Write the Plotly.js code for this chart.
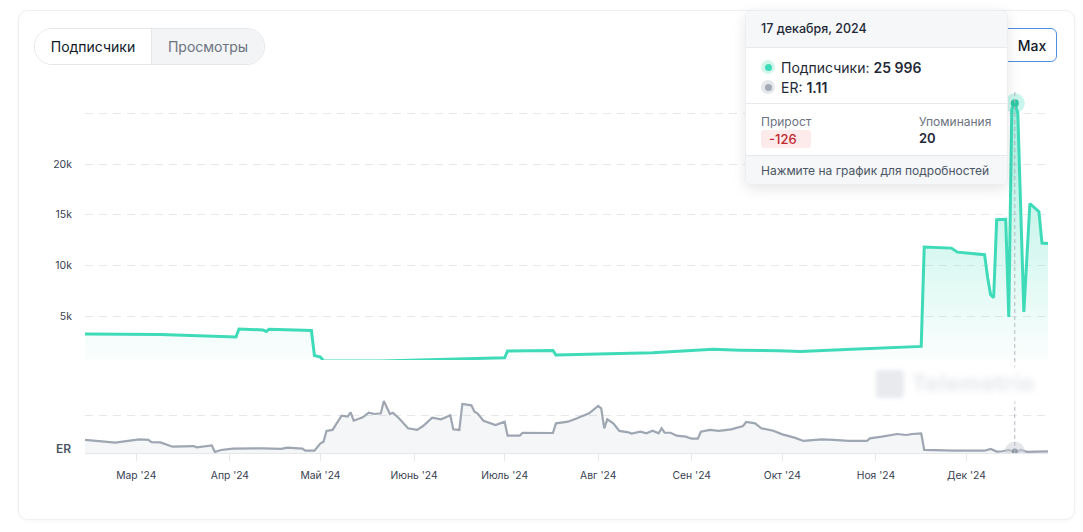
<!DOCTYPE html>
<html>
<head>
<meta charset="utf-8">
<script src="https://cdn.plot.ly/plotly-3.0.1.min.js"></script>
<style>
  html, body { margin:0; padding:0; background:#ffffff; font-family: Inter, "Noto Sans", sans-serif; }
  #wrap { position:relative; width:1083px; height:532px; overflow:hidden; }
  #card { position:absolute; left:18px; top:10px; width:1055px; height:508px; border:1px solid #eef0f3; border-radius:10px; background:#fff; box-shadow:0 1px 4px rgba(0,0,0,0.04); }
  #chart { position:absolute; left:0; top:0; width:1083px; height:532px; }
  .toggle { position:absolute; left:34px; top:28px; width:229px; height:35px; border:1px solid #e5e7eb; border-radius:18px; overflow:hidden; display:flex; font-size:14px; }
  .toggle div { display:flex; align-items:center; justify-content:center; }
  .t1 { width:116px; background:#fff; color:#111827; border-right:1px solid #e5e7eb; }
  .t2 { flex:1; background:#f3f4f6; color:#6b7280; }
  .maxbtn { position:absolute; left:1000px; top:28px; width:57px; height:34px; border:1px solid #4f8fe0; border-radius:6px; background:#fff; font-size:14px; font-weight:500; color:#111827; display:flex; align-items:center; justify-content:center; padding-left:7px; box-sizing:border-box; }
  .tip { position:absolute; left:745px; top:10px; width:261px; height:173px; background:#fff; border-radius:7px; box-shadow:0 4px 14px rgba(0,0,0,0.10); border:1px solid #eceef1; overflow:hidden; color:#1f2937; }
  .tip .hd { height:36px; background:#f6f7f9; border-bottom:1px solid #e7e9ec; font-size:12.5px; font-weight:500; padding-left:15px; line-height:36px; }
  .tip .bd { height:56px; border-bottom:1px solid #e7e9ec; padding-left:15px; padding-top:9px; box-sizing:border-box; font-size:14px; }
  .tip .row { display:flex; align-items:center; height:20px; }
  .dot { width:14px; height:14px; border-radius:50%; display:flex; align-items:center; justify-content:center; margin-right:6px; }
  .dot i { width:7px; height:7px; border-radius:50%; display:block; }
  .tip .st { height:51px; border-bottom:1px solid #e7e9ec; position:relative; font-size:12px; }
  .lbl { position:absolute; color:#6b7280; top:10px; }
  .val { position:absolute; top:26px; font-weight:600; font-size:13px; }
  .neg { background:#fdebec; color:#c0262d; font-weight:500; padding:1px 8px; border-radius:3px; width:34px; }
  .tip .ft { height:29px; background:#f6f7f9; font-size:12px; color:#4b5563; padding-left:15px; line-height:29px; }
  .wm { position:absolute; left:872px; top:366px; width:170px; height:36px; background:#fff; filter:blur(2px); }
  .wm .ic { position:absolute; left:4px; top:4px; width:28px; height:28px; background:#e8eaee; border-radius:4px; }
  .wm .tx { position:absolute; left:40px; top:4px; font-size:22px; color:#e1e4e8; font-weight:600; letter-spacing:1px; filter:blur(2.5px); }
</style>
</head>
<body>
<div id="wrap">
  <div id="card"></div>
  <div id="chart"></div>
  <div class="wm"><div class="ic"></div><div class="tx">Telemetrio</div></div>
  <div class="toggle"><div class="t1">Подписчики</div><div class="t2">Просмотры</div></div>
  <div class="maxbtn">Max</div>
  <div class="tip" id="tip"></div>
</div>
<script>
// ---------- DATA ----------
const subsDates = ['2024-02-13','2024-03-09','2024-04-03','2024-04-04','2024-04-12','2024-04-13','2024-04-14','2024-04-28','2024-04-29','2024-05-01','2024-05-02','2024-05-21','2024-07-01','2024-07-02','2024-07-17','2024-07-18','2024-08-01','2024-08-19','2024-09-08','2024-09-17','2024-09-30','2024-10-07','2024-10-22','2024-11-03','2024-11-16','2024-11-17','2024-11-26','2024-11-28','2024-12-07','2024-12-08','2024-12-09','2024-12-10','2024-12-11','2024-12-14','2024-12-15','2024-12-16','2024-12-17','2024-12-18','2024-12-20','2024-12-22','2024-12-24','2024-12-25','2024-12-26','2024-12-28'];
const subsValues = [3225,3180,2930,3720,3620,3470,3690,3570,1100,950,580,560,880,1550,1600,1150,1250,1380,1720,1620,1560,1500,1700,1850,2000,11800,11700,11300,11050,8800,7100,6800,14500,14550,4900,25400,25996,25000,5400,16100,15600,15300,12200,12150];

const erDates = ['2024-02-13','2024-02-17','2024-02-23','2024-03-02','2024-03-05','2024-03-06','2024-03-09','2024-03-13','2024-03-20','2024-03-21','2024-03-26','2024-03-27','2024-03-29','2024-04-02','2024-04-12','2024-04-18','2024-04-20','2024-04-25','2024-04-26','2024-04-29','2024-05-01','2024-05-02','2024-05-03','2024-05-05','2024-05-08','2024-05-10','2024-05-11','2024-05-12','2024-05-15','2024-05-17','2024-05-19','2024-05-21','2024-05-22','2024-05-24','2024-05-25','2024-05-27','2024-05-30','2024-06-02','2024-06-04','2024-06-07','2024-06-10','2024-06-13','2024-06-14','2024-06-16','2024-06-17','2024-06-20','2024-06-21','2024-06-22','2024-06-24','2024-06-28','2024-07-01','2024-07-02','2024-07-06','2024-07-07','2024-07-13','2024-07-17','2024-07-18','2024-07-22','2024-07-25','2024-07-29','2024-08-01','2024-08-02','2024-08-03','2024-08-04','2024-08-06','2024-08-08','2024-08-11','2024-08-12','2024-08-15','2024-08-17','2024-08-19','2024-08-21','2024-08-22','2024-08-23','2024-08-25','2024-08-27','2024-08-30','2024-09-01','2024-09-03','2024-09-04','2024-09-07','2024-09-10','2024-09-14','2024-09-15','2024-09-18','2024-09-19','2024-09-22','2024-09-24','2024-09-28','2024-10-01','2024-10-05','2024-10-08','2024-10-14','2024-10-18','2024-10-23','2024-10-29','2024-10-30','2024-11-03','2024-11-08','2024-11-11','2024-11-13','2024-11-16','2024-11-17','2024-11-27','2024-12-07','2024-12-09','2024-12-11','2024-12-13','2024-12-15','2024-12-16','2024-12-17','2024-12-18','2024-12-19','2024-12-21','2024-12-27','2024-12-28'];
const erValues = [10.3,9.5,8.2,10.8,10.3,8.6,8.4,5.0,5.5,4.5,6.0,0.8,2.4,3.4,3.7,3.2,4.2,3.4,1.8,1.8,7.6,8.9,17.4,18.2,29.5,28.7,32.1,25.5,28.2,31.8,30.8,31.3,41.0,30.8,31.8,27.4,19.5,18.2,21.3,27.9,26.6,29.8,18.7,18.2,38.7,37.6,32.6,31.3,25.5,22.1,24.7,13.7,13.7,16.0,16.0,15.8,23.4,24.7,27.4,31.3,37.1,35.3,19.5,26.6,23.4,17.4,16.3,15.3,16.8,15.5,17.6,15.5,19.5,16.0,16.0,13.7,12.9,11.3,11.3,16.8,18.2,17.4,18.7,19.5,21.3,24.5,23.4,19.5,17.6,14.7,12.1,9.5,10.8,10.3,9.5,9.5,11.6,12.9,15.0,14.2,15.0,15.5,2.4,1.8,1.8,3.2,1.1,1.4,2.4,1.4,1.11,1.6,2.4,0.9,1.3,1.3];

const monthTicks = ['2024-03-01','2024-04-01','2024-05-01','2024-06-01','2024-07-01','2024-08-01','2024-09-01','2024-10-01','2024-11-01','2024-12-01'];
const monthLabels = ["Мар '24","Апр '24","Май '24","Июнь '24","Июль '24","Авг '24","Сен '24","Окт '24","Ноя '24","Дек '24"];
const subsTicks = [5000,10000,15000,20000,25000];
const subsTickLabels = ['5k','10k','15k','20k',''];

const hoverDate = '2024-12-17';
const hoverDateLabel = '17 декабря, 2024';
const hoverGrowth = -126;
const hoverMentions = 20;

// ---------- CHART ----------
const TEAL = '#3fdbb9';
const GRAY = '#9ea6b1';
const hi = subsDates.indexOf(hoverDate);
const he = erDates.indexOf(hoverDate);

const traces = [
  { x: subsDates, y: subsValues, type:'scatter', mode:'lines', xaxis:'x', yaxis:'y',
    line:{color:TEAL, width:3}, fill:'tozeroy',
    fillgradient:{type:'vertical', start:658, stop:26000,
      colorscale:[[0,'rgba(63,219,185,0.02)'],[1,'rgba(63,219,185,0.45)']]},
    hoverinfo:'skip' },
  { x: erDates, y: erValues, type:'scatter', mode:'lines', xaxis:'x', yaxis:'y2',
    line:{color:GRAY, width:2.2}, fill:'tozeroy', fillcolor:'rgba(160,170,185,0.10)', hoverinfo:'skip' },
  { x:[subsDates[hi]], y:[subsValues[hi]], type:'scatter', mode:'markers', xaxis:'x', yaxis:'y',
    marker:{size:20, color:'rgba(63,219,185,0.28)'}, hoverinfo:'skip' },
  { x:[subsDates[hi]], y:[subsValues[hi]], type:'scatter', mode:'markers', xaxis:'x', yaxis:'y',
    marker:{size:8, color:'#2fc9a5'}, hoverinfo:'skip' },
  { x:[erDates[he]], y:[erValues[he]], type:'scatter', mode:'markers', xaxis:'x', yaxis:'y2',
    marker:{size:20, color:'rgba(205,209,216,0.55)'}, hoverinfo:'skip' },
  { x:[erDates[he]], y:[erValues[he]], type:'scatter', mode:'markers', xaxis:'x', yaxis:'y2',
    marker:{size:6, color:'#8f98a4'}, hoverinfo:'skip' }
];

const H = 433;
const layout = {
  width:1083, height:532,
  margin:{l:85, r:35, t:20, b:79},
  paper_bgcolor:'rgba(0,0,0,0)', plot_bgcolor:'rgba(0,0,0,0)',
  showlegend:false, hovermode:false,
  font:{family:'Inter, "Noto Sans", sans-serif', color:'#374151', size:11},
  xaxis:{ type:'date', range:['2024-02-13','2024-12-28'], anchor:'y2',
    tickvals:monthTicks, ticktext:monthLabels, ticks:'outside', ticklen:7, tickcolor:'#e5e7eb',
    showline:true, linecolor:'#e5e7eb', linewidth:1, showgrid:false, zeroline:false,
    ticklabelstandoff:6, tickfont:{size:10.3, color:'#374151'} },
  yaxis:{ domain:[(453-360)/H, (453-90)/H], range:[658, 27303], tickvals:subsTicks, ticktext:subsTickLabels,
    showgrid:true, gridcolor:'#e6e8eb', griddash:'8px,6px', zeroline:false, showline:false,
    ticks:'', ticklabelstandoff:12, tickfont:{size:10.5, color:'#374151'} },
  yaxis2:{ domain:[0, (453-398)/H], range:[0, 43.42], tickvals:[30], showticklabels:false,
    showgrid:true, gridcolor:'#e6e8eb', griddash:'8px,6px', zeroline:false, showline:false, ticks:'' },
  shapes:[{ type:'line', xref:'x', yref:'paper', x0:hoverDate, x1:hoverDate, y0:0, y1:(453-90)/H,
    line:{color:'#b4b9c1', width:1, dash:'4px,3px'}, layer:'above' }],
  annotations:[{ text:'ER', xref:'paper', yref:'y2', x:0, y:0, xanchor:'right', yanchor:'bottom',
    xshift:-12, yshift:-5, showarrow:false, font:{size:12, color:'#4b5563', weight:600} }]
};

Plotly.newPlot('chart', traces, layout, {staticPlot:true, displayModeBar:false});

// ---------- TOOLTIP ----------
function fmt(n){ return String(n).replace(/\B(?=(\d{3})+(?!\d))/g, ' '); }
document.getElementById('tip').innerHTML =
  '<div class="hd">' + hoverDateLabel + '</div>' +
  '<div class="bd">' +
    '<div class="row"><span class="dot" style="background:#d3f6ec"><i style="background:' + TEAL + '"></i></span>Подписчики:&nbsp;<b style="font-weight:600">' + fmt(subsValues[hi]) + '</b></div>' +
    '<div class="row"><span class="dot" style="background:#e5e7eb"><i style="background:#a3aab5"></i></span>ER:&nbsp;<b style="font-weight:600">' + erValues[he] + '</b></div>' +
  '</div>' +
  '<div class="st">' +
    '<div class="lbl" style="left:15px">Прирост</div>' +
    '<div class="val neg" style="left:15px">' + hoverGrowth + '</div>' +
    '<div class="lbl" style="left:173px">Упоминания</div>' +
    '<div class="val" style="left:173px">' + hoverMentions + '</div>' +
  '</div>' +
  '<div class="ft">Нажмите на график для подробностей</div>';
</script>
</body>
</html>
